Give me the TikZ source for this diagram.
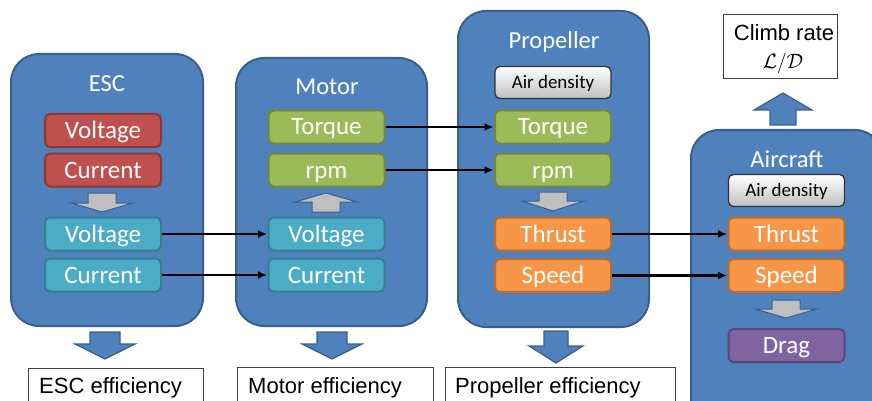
\documentclass[tikz,border=0pt]{standalone}
\usepackage{fontspec}
\setmainfont{Carlito}
\newfontfamily\arialf{Liberation Sans}
\usetikzlibrary{arrows.meta}
\definecolor{cblue}{HTML}{4F81BD}
\definecolor{cbord}{HTML}{3A5F8F}
\definecolor{cred}{HTML}{C0504D}
\definecolor{credb}{HTML}{8C3836}
\definecolor{cteal}{HTML}{4BACC6}
\definecolor{ctealb}{HTML}{357D91}
\definecolor{cgreen}{HTML}{9BBB59}
\definecolor{cgreenb}{HTML}{71893F}
\definecolor{corange}{HTML}{F79646}
\definecolor{corangeb}{HTML}{B66D31}
\definecolor{cpurple}{HTML}{8064A2}
\definecolor{cpurpleb}{HTML}{5C4776}
\definecolor{cgrayarr}{HTML}{BFBFBF}
\newcommand\blkarrow[7]{\draw[#1] ({#2-#6},#3) -- ({#2+#6},#3) -- ({#2+#6},#4) -- ({#2+#7},#4) -- (#2,#5) -- ({#2-#7},#4) -- ({#2-#6},#4) -- cycle;}
\tikzset{
  cont/.style={draw=cbord, line width=2pt, fill=cblue, rounded corners=28pt, inner sep=0pt},
  ctitle/.style={text=white, font=\fontsize{24.5}{28}\selectfont, text height=15.8pt, text depth=0pt, inner sep=0pt},
  ibox/.style={rounded corners=5pt, line width=2pt, minimum width=116pt, minimum height=33pt, inner sep=0pt, text=white, font=\fontsize{25}{28}\selectfont, text height=16pt, text depth=0pt},
  redbox/.style={ibox, fill=cred, draw=credb},
  tealbox/.style={ibox, fill=cteal, draw=ctealb},
  greenbox/.style={ibox, fill=cgreen, draw=cgreenb},
  orangebox/.style={ibox, fill=corange, draw=corangeb},
  purplebox/.style={ibox, fill=cpurple, draw=cpurpleb},
  airbox/.style={rounded corners=5pt, line width=1.3pt, draw=black!80, top color=white, bottom color=black!25, minimum width=116pt, minimum height=32pt, inner sep=0pt, text=black, font=\fontsize{19}{22}\selectfont, text height=12.5pt, text depth=0pt},
  effbox/.style={draw=black!75, line width=1pt, fill=white},
  efftext/.style={font=\arialf\fontsize{22}{26}\selectfont, inner sep=0pt, anchor=base west},
  grayarr/.style={fill=cgrayarr, draw=cbord, line width=1pt},
  bluearr/.style={fill=cblue, draw=cbord, line width=1.2pt},
  conn/.style={line width=2.5pt, -{Latex[length=9pt,width=8pt]}, shorten >=0.5pt}
}
\begin{document}
\begin{tikzpicture}[x=1pt,y=-1pt]
\useasboundingbox (0,0) rectangle (872,401);
\clip (0,0) rectangle (872,401);
% containers
\node[cont, minimum width=192pt, minimum height=272pt] (esc) at (107,190) {};
\node[cont, minimum width=191pt, minimum height=268pt] (mot) at (331.5,192) {};
\node[cont, minimum width=191pt, minimum height=316pt] (prop) at (553.5,169) {};
\node[cont, minimum width=192pt, minimum height=309pt] (air) at (787,284.5) {};
% titles
\node[ctitle] (esct) at (107,84) {ESC};
\node[ctitle] (mott) at (327,87) {Motor};
\node[ctitle] (propt) at (554,41) {Propeller};
\node[ctitle] (airt) at (787,160) {Aircraft};
% ESC boxes
\node[redbox] (escv1) at (103,130.5) {Voltage};
\node[redbox] (escc1) at (103,170) {Current};
\node[tealbox] (escv2) at (103,234) {Voltage};
\node[tealbox] (escc2) at (103,275) {Current};
% Motor boxes
\node[greenbox] (mott1) at (326.5,127) {Torque};
\node[greenbox] (motr1) at (326.5,170) {rpm};
\node[tealbox] (motv) at (326.5,234) {Voltage};
\node[tealbox] (motc) at (326.5,275) {Current};
% Propeller boxes
\node[airbox] (propair) at (553,82.5) {Air density};
\node[greenbox] (propt1) at (553,127) {Torque};
\node[greenbox] (propr1) at (553,170) {rpm};
\node[orangebox] (propth) at (553,234) {Thrust};
\node[orangebox] (propsp) at (553,275.5) {Speed};
% Aircraft boxes
\node[airbox] (airair) at (786.5,190.5) {Air density};
\node[orangebox] (airth) at (786.5,234) {Thrust};
\node[orangebox] (airsp) at (786.5,275.5) {Speed};
\node[purplebox] (airdr) at (786.5,345.5) {Drag};
% gray arrows
\blkarrow{grayarr}{102}{193}{203}{212}{14}{31}
\blkarrow{grayarr}{326}{212}{202}{193}{14}{31}
\blkarrow{grayarr}{553}{192}{201}{211}{14}{31}
\blkarrow{grayarr}{786}{300}{309}{318}{14}{31}
% blue arrows
\blkarrow{bluearr}{105}{332}{344}{359}{15}{30}
\blkarrow{bluearr}{332}{332}{344}{359}{15}{30}
\blkarrow{bluearr}{556}{331}{346}{363}{12}{27}
\blkarrow{bluearr}{783}{125}{110}{93}{13}{29}
% efficiency boxes
\draw[effbox] (28,368) rectangle (203,410);
\node[efftext] (esce) at (39,393) {ESC efficiency};
\draw[effbox] (237,367) rectangle (433,410);
\node[efftext] (mote) at (248,393) {Motor efficiency};
\draw[effbox] (445,367) rectangle (675,410);
\node[efftext] (prope) at (455,393) {Propeller efficiency};
% climb box
\node[effbox, minimum width=114pt, minimum height=64pt, inner sep=0pt] (climb) at (780,47) {};
\node[font=\arialf\fontsize{22}{26}\selectfont, inner sep=0pt, anchor=base] (climbt) at (784,41) {Climb rate};
\node[font=\fontsize{20}{24}\selectfont, inner sep=0pt] (climbm) at (783,63) {$\mathcal{L}/\mathcal{D}$};
% connectors
\draw[conn] (escv2.east) -- (motv.west);
\draw[conn] (escc2.east) -- (motc.west);
\draw[conn] (mott1.east) -- (propt1.west);
\draw[conn] (motr1.east) -- (propr1.west);
\draw[conn] (propth.east) -- (airth.west);
\draw[conn] (propsp.east) -- (airsp.west);
\end{tikzpicture}
\end{document}
